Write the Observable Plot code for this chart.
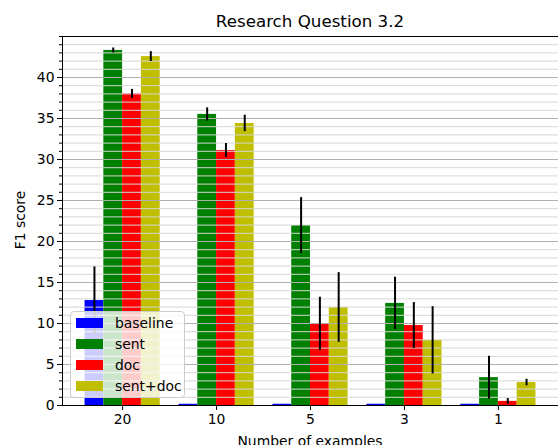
<!DOCTYPE html>
<html>
<head>
<meta charset="utf-8">
<script src="https://cdn.jsdelivr.net/npm/d3@7"></script>
<script src="https://cdn.jsdelivr.net/npm/@observablehq/plot@0.6"></script>
<style>
  html, body { margin: 0; padding: 0; background: #fff; }
  body { font-family: "DejaVu Sans", sans-serif; }
  #wrap { position: relative; width: 558px; height: 445px; overflow: hidden; }
  #title { position: relative; height: 30px; box-sizing: border-box; padding-top: 11px; line-height: 20px;
           margin-left: 62px; width: 496px; text-align: center; font-size: 16.7px; color: #000; }
  #ylab { position: absolute; left: 20px; top: 220px; transform: translate(-50%, -50%) rotate(-90deg);
          font-size: 13.9px; white-space: nowrap; }
  #xlab { position: absolute; left: 310px; top: 441px; transform: translate(-50%, -50%);
          font-size: 13.9px; white-space: nowrap; }
  #legend { position: absolute; left: 70px; top: 311px; width: 115px; height: 87px; box-sizing: border-box;
            background: rgba(255,255,255,0.8); border: 1px solid #cccccc; border-radius: 4px; }
  .row { position: absolute; left: 5px; height: 21px; display: flex; align-items: center; font-size: 13.9px; }
  .sw { width: 27px; height: 10px; margin-right: 12px; }
</style>
</head>
<body>
<div id="wrap">
  <div id="title">Research Question 3.2</div>
  <div id="chart"></div>
  <div id="ylab">F1 score</div>
  <div id="xlab">Number of examples</div>
  <div id="legend"></div>
</div>
<script>
const categories = ["20", "10", "5", "3", "1"];
const seriesNames = ["baseline", "sent", "doc", "sent+doc"];
const seriesColors = ["#0000ff", "#008000", "#ff0000", "#bfbf00"];

const baselineValues = [12.8, 0.15, 0.15, 0.15, 0.15];
const baselineErrors = [4.1, 0, 0, 0, 0];
const sentValues = [43.3, 35.5, 21.95, 12.45, 3.4];
const sentErrors = [0.3, 0.8, 3.4, 3.2, 2.6];
const docValues = [38.0, 31.1, 9.95, 9.75, 0.5];
const docErrors = [0.55, 0.85, 3.25, 2.8, 0.35];
const sentDocValues = [42.55, 34.4, 11.95, 7.95, 2.8];
const sentDocErrors = [0.6, 1.0, 4.25, 4.1, 0.4];

const yTicks = [0, 5, 10, 15, 20, 25, 30, 35, 40];
const yMinor = d3.range(0, 46, 1);

const valueSets = [baselineValues, sentValues, docValues, sentDocValues];
const errorSets = [baselineErrors, sentErrors, docErrors, sentDocErrors];

const rows = [];
categories.forEach((c, ci) => {
  seriesNames.forEach((s, sj) => {
    rows.push({cat: c, ci, series: s, sj, value: valueSets[sj][ci], err: errorSets[sj][ci]});
  });
});

const barW = 0.2;
const left = d => d.ci - 0.4 + d.sj * barW;

const chart = Plot.plot({
  width: 558,
  height: 415,
  marginTop: 6,
  marginBottom: 40,
  marginLeft: 62,
  marginRight: 0,
  style: {fontFamily: "DejaVu Sans, sans-serif", fontSize: "13.9px", color: "#000", background: "#fff", overflow: "visible"},
  x: {domain: [-0.64, 4.64], axis: null},
  y: {domain: [0, 45], axis: null},
  color: {domain: seriesNames, range: seriesColors},
  marks: [
    Plot.rectY(rows, {x1: left, x2: d => left(d) + barW, y1: 0, y2: "value", fill: "series"}),
    Plot.gridY(yMinor, {stroke: "#d6d6d6", strokeOpacity: 1, strokeWidth: 1}),
    Plot.gridY(yTicks, {stroke: "#b0b0b0", strokeOpacity: 1, strokeWidth: 1}),
    Plot.ruleX(rows.filter(d => d.err > 0), {
      x: d => left(d) + barW / 2, y1: d => d.value - d.err, y2: d => d.value + d.err,
      stroke: "#000", strokeWidth: 2
    }),
    Plot.ruleY([0, 45], {stroke: "#000", strokeWidth: 1}),
    Plot.ruleX([-0.64], {stroke: "#000", strokeWidth: 1}),
    Plot.axisY(yMinor, {tickSize: 3, tickFormat: () => "", label: null}),
    Plot.axisY(yTicks, {tickSize: 5, tickPadding: 3, label: null, fontSize: 13.9}),
    Plot.axisX([0, 1, 2, 3, 4], {tickSize: 5, tickPadding: 4, tickFormat: i => categories[i], label: null, fontSize: 13.9})
  ]
});
document.getElementById("chart").appendChild(chart);

const legend = document.getElementById("legend");
seriesNames.forEach((s, i) => {
  const row = document.createElement("div");
  row.className = "row";
  row.style.top = (0.5 + i * 21) + "px";
  const sw = document.createElement("div");
  sw.className = "sw";
  sw.style.background = seriesColors[i];
  const t = document.createElement("span");
  t.textContent = s;
  row.appendChild(sw);
  row.appendChild(t);
  legend.appendChild(row);
});
</script>
</body>
</html>
